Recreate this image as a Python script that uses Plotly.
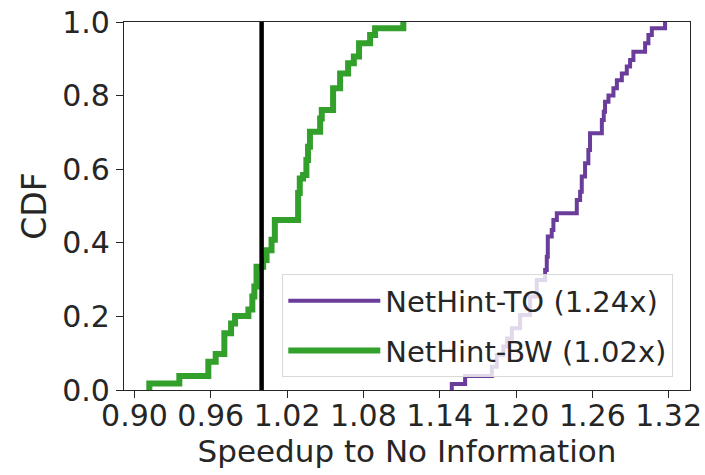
import plotly.graph_objects as go

# ---- data ----
speedup_to = [1.1495, 1.1495, 1.1600, 1.1810, 1.1849, 1.1901, 1.1930, 1.1967, 1.2032, 1.2111,
              1.2163, 1.2229, 1.2242, 1.2250, 1.2281, 1.2294, 1.2321, 1.2478, 1.2504, 1.2517,
              1.2543, 1.2569, 1.2582, 1.2675, 1.2690, 1.2700, 1.2727, 1.2766, 1.2793, 1.2832,
              1.2871, 1.2897, 1.2923, 1.3015, 1.3041, 1.3068, 1.3172]
cdf_to = [0.0, 0.016, 0.038, 0.063, 0.095, 0.118, 0.140, 0.168, 0.204, 0.254,
          0.299, 0.326, 0.362, 0.417, 0.435, 0.462, 0.480, 0.516, 0.539, 0.580,
          0.616, 0.652, 0.698, 0.734, 0.756, 0.783, 0.800, 0.820, 0.842, 0.860,
          0.879, 0.897, 0.919, 0.942, 0.965, 0.983, 1.0]

speedup_bw = [0.9117, 0.9117, 0.9353, 0.9581, 0.9639, 0.9707, 0.9760, 0.9791, 0.9896, 0.9927,
              0.9943, 0.9960, 1.0012, 1.0039, 1.0078, 1.0104, 1.0287, 1.0300, 1.0326, 1.0352,
              1.0365, 1.0380, 1.0460, 1.0473, 1.0562, 1.0617, 1.0680, 1.0725, 1.0766, 1.0853,
              1.0892, 1.1114]
cdf_bw = [0.0, 0.018, 0.038, 0.077, 0.098, 0.154, 0.181, 0.201, 0.219, 0.254,
          0.281, 0.335, 0.353, 0.380, 0.408, 0.462, 0.535, 0.575, 0.584, 0.625,
          0.661, 0.702, 0.738, 0.761, 0.820, 0.860, 0.888, 0.906, 0.942, 0.965,
          0.983, 1.0]

baseline_x = 1.0
label_to = "NetHint-TO (1.24x)"
label_bw = "NetHint-BW (1.02x)"
x_ticks = [0.90, 0.96, 1.02, 1.08, 1.14, 1.20, 1.26, 1.32]
y_ticks = [0.0, 0.2, 0.4, 0.6, 0.8, 1.0]

PURPLE = "#6a3d9a"
GREEN = "#33a02c"
TXT = "#262626"
FONT = "DejaVu Sans, Liberation Sans, Arial, sans-serif"

fig = go.Figure()
fig.add_trace(go.Scatter(x=speedup_to, y=cdf_to, mode="lines", name=label_to,
                         line=dict(color=PURPLE, width=4, shape="hv"),
                         legendgroup="to"))
fig.add_trace(go.Scatter(x=speedup_bw, y=cdf_bw, mode="lines", name=label_bw,
                         line=dict(color=GREEN, width=6, shape="hv"),
                         legendgroup="bw"))
fig.add_vline(x=baseline_x, line=dict(color="black", width=4.5), layer="above")

fig.update_layout(
    width=705, height=475,
    margin=dict(l=124, r=15, t=22, b=85),
    paper_bgcolor="white", plot_bgcolor="white",
    font=dict(family=FONT, color=TXT, size=30),
    showlegend=True,
    legend=dict(x=0.9705, y=0.034, xanchor="right", yanchor="bottom",
                bgcolor="rgba(255,255,255,0.8)", bordercolor="#d9d9d9", borderwidth=1,
                font=dict(size=29, color=TXT, family=FONT),
                itemwidth=92, tracegroupgap=9, traceorder="grouped"),
    xaxis=dict(range=[0.8918, 1.3368], tickvals=x_ticks,
               ticktext=[f"{v:.2f}" for v in x_ticks],
               showgrid=False, zeroline=False, automargin=False,
               showline=True, mirror=True, linecolor=TXT, linewidth=1.25,
               ticks="outside", ticklen=7, tickwidth=1.25, tickcolor=TXT,
               ticklabelstandoff=-8,
               tickfont=dict(size=30, color=TXT),
               title=dict(text="Speedup to No Information", font=dict(size=31, color=TXT), standoff=4)),
    yaxis=dict(range=[0, 1], tickvals=y_ticks,
               ticktext=[f"{v:.1f}" for v in y_ticks],
               showgrid=False, zeroline=False, automargin=False,
               showline=True, mirror=True, linecolor=TXT, linewidth=1.25,
               ticks="outside", ticklen=7, tickwidth=1.25, tickcolor=TXT,
               tickfont=dict(size=30, color=TXT),
               title=dict(text="CDF", font=dict(size=33, color=TXT), standoff=5)),
)

fig.write_html("out.html")
